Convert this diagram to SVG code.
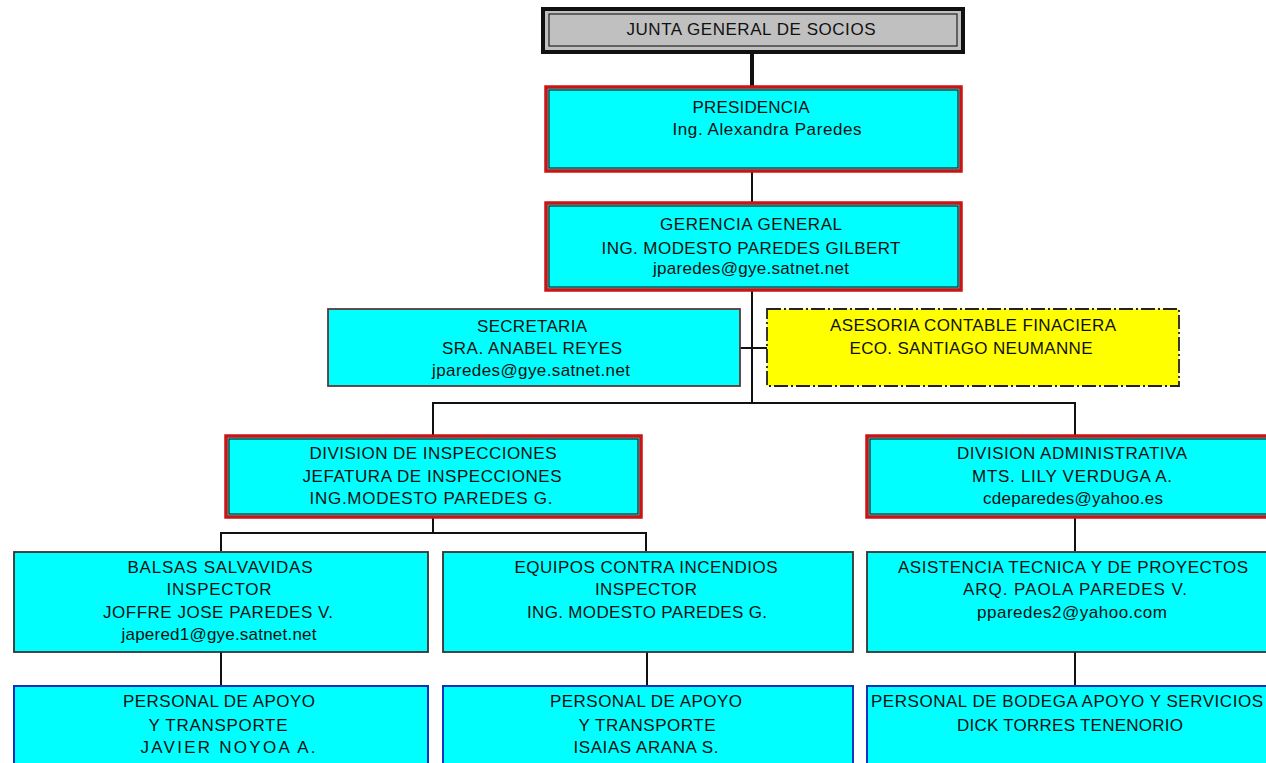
<svg xmlns="http://www.w3.org/2000/svg" width="1266" height="763" viewBox="0 0 1266 763">
<style>
text{font-family:"Liberation Sans",Arial,sans-serif;font-size:17px;fill:#111;text-anchor:middle}
.red{fill:#00ffff;stroke:#cc1414;stroke-width:3.5}
.inner{fill:none;stroke:#222;stroke-width:1.2}
.thin{fill:#00ffff;stroke:#333;stroke-width:1.8}
.sec{fill:#00ffff;stroke:#5a3a3a;stroke-width:1.8}
.blue{fill:#00ffff;stroke:#1030c0;stroke-width:2}
.yel{fill:#ffff00;stroke:#222;stroke-width:1.8;stroke-dasharray:14 3 2 3}
.ln{stroke:#111;stroke-width:2;fill:none}
</style>
<rect width="1266" height="763" fill="#ffffff"/>
<g id="connectors">
<line class="ln" x1="752" y1="53" x2="752" y2="86" style="stroke-width:4"/>
<line class="ln" x1="752" y1="172" x2="752" y2="202"/>
<line class="ln" x1="752" y1="290" x2="752" y2="403"/>
<line class="ln" x1="740" y1="348" x2="767" y2="348"/>
<polyline class="ln" points="433,435 433,403 1075,403 1075,435"/>
<polyline class="ln" points="433,518 433,533"/>
<polyline class="ln" points="221,551 221,533 646,533 646,551"/>
<line class="ln" x1="1075" y1="518" x2="1075" y2="551"/>
<line class="ln" x1="221" y1="652" x2="221" y2="685"/>
<line class="ln" x1="647" y1="652" x2="647" y2="685"/>
<line class="ln" x1="1075" y1="652" x2="1075" y2="685"/>
</g>
<g id="junta">
<rect x="543" y="9" width="420" height="43" fill="#c0c0c0" stroke="#111" stroke-width="4"/>
<rect x="549" y="14" width="408" height="32" fill="none" stroke="#222" stroke-width="1.2"/>
<text x="751" y="35" textLength="249" lengthAdjust="spacing">JUNTA GENERAL DE SOCIOS</text>
</g>
<g id="presidencia">
<rect class="red" x="546" y="87" width="415" height="84"/>
<rect class="inner" x="549" y="90" width="409" height="78"/>
<text x="751" y="113" textLength="117" lengthAdjust="spacing">PRESIDENCIA</text>
<text x="767" y="135" textLength="189" lengthAdjust="spacing">Ing. Alexandra Paredes</text>
</g>
<g id="gerencia">
<rect class="red" x="546" y="203" width="415" height="87"/>
<rect class="inner" x="549" y="206" width="409" height="81"/>
<text x="751" y="230" textLength="182" lengthAdjust="spacing">GERENCIA GENERAL</text>
<text x="751" y="254" textLength="299" lengthAdjust="spacing">ING. MODESTO PAREDES GILBERT</text>
<text x="751" y="274" textLength="196" lengthAdjust="spacing">jparedes@gye.satnet.net</text>
</g>
<g id="secretaria">
<rect class="sec" x="328" y="309" width="412" height="77"/>
<text x="532" y="332" textLength="110" lengthAdjust="spacing">SECRETARIA</text>
<text x="532" y="354" textLength="180" lengthAdjust="spacing">SRA. ANABEL REYES</text>
<text x="531" y="376" textLength="198" lengthAdjust="spacing">jparedes@gye.satnet.net</text>
</g>
<g id="asesoria">
<rect class="yel" x="767" y="309" width="412" height="77"/>
<text x="973" y="331" textLength="286" lengthAdjust="spacing">ASESORIA CONTABLE FINACIERA</text>
<text x="971" y="354" textLength="243" lengthAdjust="spacing">ECO. SANTIAGO NEUMANNE</text>
</g>
<g id="div-inspecciones">
<rect class="red" x="226" y="436" width="415" height="81"/>
<rect class="inner" x="229" y="439" width="409" height="75"/>
<text x="433" y="459" textLength="247" lengthAdjust="spacing">DIVISION DE INSPECCIONES</text>
<text x="432" y="482" textLength="259" lengthAdjust="spacing">JEFATURA DE INSPECCIONES</text>
<text x="431" y="504" textLength="243" lengthAdjust="spacing">ING.MODESTO PAREDES G.</text>
</g>
<g id="div-administrativa">
<rect class="red" x="867" y="436" width="404" height="81"/>
<rect class="inner" x="870" y="439" width="400" height="75"/>
<text x="1072" y="459" textLength="230" lengthAdjust="spacing">DIVISION ADMINISTRATIVA</text>
<text x="1072" y="482" textLength="200" lengthAdjust="spacing">MTS. LILY VERDUGA  A.</text>
<text x="1073" y="504" textLength="180" lengthAdjust="spacing">cdeparedes@yahoo.es</text>
</g>
<g id="balsas">
<rect class="thin" x="14" y="552" width="414" height="100"/>
<text x="220" y="573" textLength="185" lengthAdjust="spacing">BALSAS SALVAVIDAS</text>
<text x="219" y="595" textLength="105" lengthAdjust="spacing">INSPECTOR</text>
<text x="218" y="618" textLength="230" lengthAdjust="spacing">JOFFRE JOSE PAREDES V.</text>
<text x="219" y="640" textLength="195" lengthAdjust="spacing">japered1@gye.satnet.net</text>
</g>
<g id="equipos">
<rect class="thin" x="443" y="552" width="410" height="100"/>
<text x="646" y="573" textLength="263" lengthAdjust="spacing">EQUIPOS CONTRA INCENDIOS</text>
<text x="646" y="595" textLength="102" lengthAdjust="spacing">INSPECTOR</text>
<text x="647" y="618" textLength="240" lengthAdjust="spacing">ING. MODESTO PAREDES G.</text>
</g>
<g id="asistencia">
<rect class="thin" x="867" y="552" width="404" height="100"/>
<text x="1073" y="573" textLength="350" lengthAdjust="spacing">ASISTENCIA TECNICA Y DE PROYECTOS</text>
<text x="1075" y="595" textLength="224" lengthAdjust="spacing">ARQ. PAOLA PAREDES V.</text>
<text x="1072" y="618" textLength="190" lengthAdjust="spacing">pparedes2@yahoo.com</text>
</g>
<g id="personal-1">
<rect class="blue" x="14" y="686" width="414" height="90"/>
<text x="219" y="707" textLength="192" lengthAdjust="spacing">PERSONAL DE APOYO</text>
<text x="218" y="731" textLength="139" lengthAdjust="spacing">Y TRANSPORTE</text>
<text x="228" y="753" textLength="175" lengthAdjust="spacing">JAVIER NOYOA A.</text>
</g>
<g id="personal-2">
<rect class="blue" x="443" y="686" width="410" height="90"/>
<text x="646" y="707" textLength="192" lengthAdjust="spacing">PERSONAL DE APOYO</text>
<text x="647" y="731" textLength="137" lengthAdjust="spacing">Y TRANSPORTE</text>
<text x="646" y="753" textLength="145" lengthAdjust="spacing">ISAIAS ARANA S.</text>
</g>
<g id="personal-3">
<rect class="blue" x="867" y="686" width="404" height="90"/>
<text x="871" y="707" textLength="392" lengthAdjust="spacing" style="text-anchor:start">PERSONAL DE  BODEGA  APOYO Y SERVICIOS</text>
<text x="1070" y="731" textLength="226" lengthAdjust="spacing">DICK TORRES TENENORIO</text>
</g>
</svg>
